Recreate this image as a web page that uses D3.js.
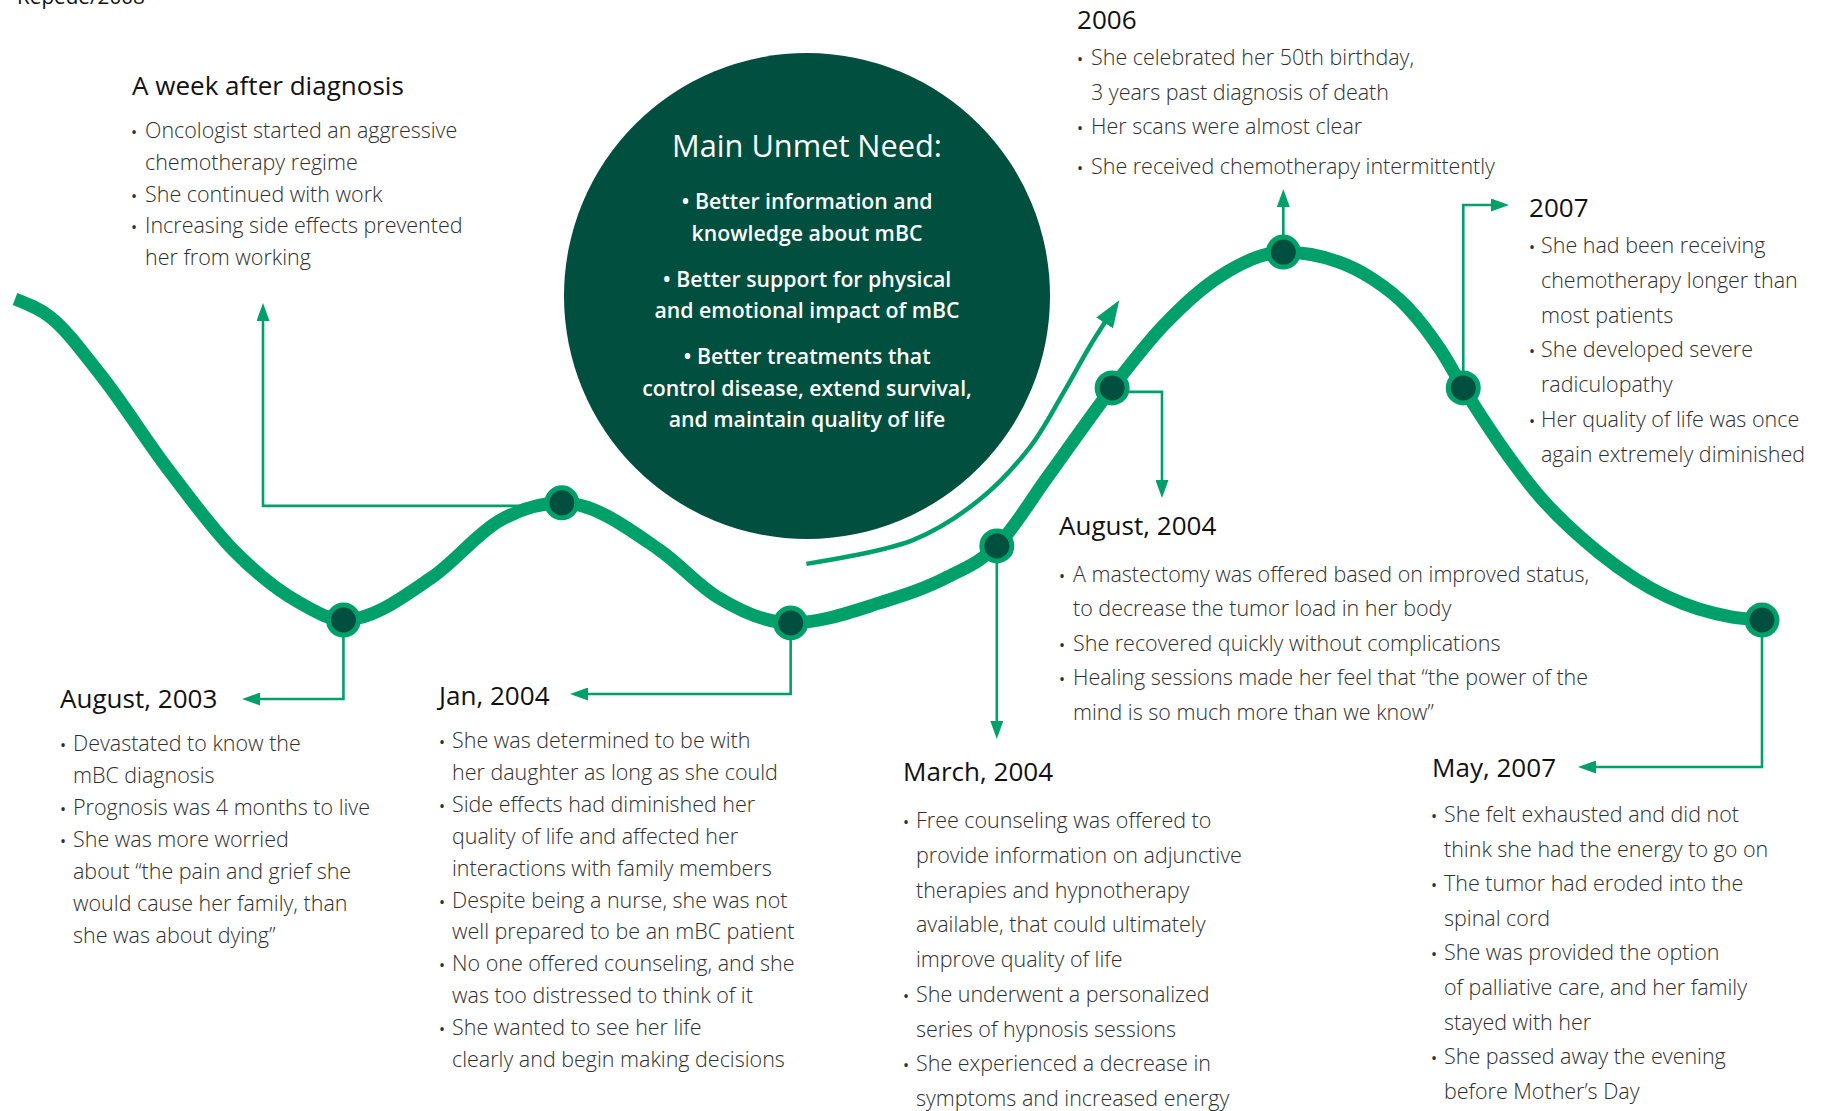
<!DOCTYPE html>
<html><head><meta charset="utf-8">
<script src="https://cdn.jsdelivr.net/npm/d3@7"></script>
<style>
html,body{margin:0;padding:0;background:#fff;}
svg{display:block;}
</style></head><body>
<svg id="chart" width="1823" height="1111"></svg>
<script>
// ---------------- DATA ----------------
const sourceNote = "Repede/2008";
const milestones = ["August, 2003", "A week after diagnosis", "Jan, 2004", "March, 2004", "August, 2004", "2006", "2007", "May, 2007"];
// timeline position (0-100) and relative quality of life (0-100) of each milestone
const milestoneTime = [18.8, 31.3, 44.4, 56.2, 62.8, 72.6, 82.9, 100];
const milestoneQoL  = [0.8, 32.3, 0, 20.7, 63.2, 99.7, 63.2, 0.8];
// the journey line, read along its course (includes the milestones)
const pathTime = [0, 2.0, 4.9, 8.7, 12.5, 16.3, 18.8, 23.9, 27.8, 31.3, 36.9, 40.2, 44.4, 49.5, 53.4, 56.2, 59.1, 62.8, 65.7, 69.0, 72.6, 75.8, 77.7, 79.7, 81.6, 82.9, 87.3, 90.7, 94.6, 98.3, 100];
const pathQoL  = [87.1, 82.3, 66.7, 41.7, 19.6, 5.4, 0.8, 12.4, 27.7, 32.3, 19.6, 7.0, 0, 5.4, 12.4, 20.7, 39.2, 63.2, 79.8, 93.3, 99.7, 97.0, 92.5, 84.9, 73.4, 63.2, 33.9, 18.8, 7.0, 1.6, 0.8];
// the thin "improvement" arrow next to the unmet-need circle
const arrowTime = [45.3, 51.4, 55.2, 58.1, 60.0, 61.5, 62.4];
const arrowQoL  = [15.9, 22.3, 33.1, 47.3, 61.8, 74.2, 80.9];

const details = [
  [["Devastated to know the", "mBC diagnosis"], ["Prognosis was 4 months to live"], ["She was more worried", "about \u201cthe pain and grief she", "would cause her family, than", "she was about dying\u201d"]],
  [["Oncologist started an aggressive", "chemotherapy regime"], ["She continued with work"], ["Increasing side effects prevented", "her from working"]],
  [["She was determined to be with", "her daughter as long as she could"], ["Side effects had diminished her", "quality of life and affected her", "interactions with family members"], ["Despite being a nurse, she was not", "well prepared to be an mBC patient"], ["No one offered counseling, and she", "was too distressed to think of it"], ["She wanted to see her life", "clearly and begin making decisions"]],
  [["Free counseling was offered to", "provide information on adjunctive", "therapies and hypnotherapy", "available, that could ultimately", "improve quality of life"], ["She underwent a personalized", "series of hypnosis sessions"], ["She experienced a decrease in", "symptoms and increased energy"]],
  [["A mastectomy was offered based on improved status,", "to decrease the tumor load in her body"], ["She recovered quickly without complications"], ["Healing sessions made her feel that \u201cthe power of the", "mind is so much more than we know\u201d"]],
  [["She celebrated her 50th birthday,", "3 years past diagnosis of death"], ["Her scans were almost clear"], ["She received chemotherapy intermittently"]],
  [["She had been receiving", "chemotherapy longer than", "most patients"], ["She developed severe", "radiculopathy"], ["Her quality of life was once", "again extremely diminished"]],
  [["She felt exhausted and did not", "think she had the energy to go on"], ["The tumor had eroded into the", "spinal cord"], ["She was provided the option", "of palliative care, and her family", "stayed with her"], ["She passed away the evening", "before Mother\u2019s Day"]]
];
const needTitle = "Main Unmet Need:";
const needs = [
  ["Better information and", "knowledge about mBC"],
  ["Better support for physical", "and emotional impact of mBC"],
  ["Better treatments that", "control disease, extend survival,", "and maintain quality of life"]
];

// ---------------- LAYOUT / STYLE ----------------
const GREEN = "#00a06b", DARK = "#004f3f", TEXT = "#2e2e2e", HEAD = "#111";
const FONT = "'Open Sans', 'Noto Sans', 'DejaVu Sans', sans-serif";
const labelLayout = [
  {hx: 60,   hy: 708, bx: 63,   tx: 73,   y0: 751, lh: 32.0},
  {hx: 132,  hy: 95,  bx: 134,  tx: 145,  y0: 138, lh: 31.8},
  {hx: 439,  hy: 705, bx: 442,  tx: 452,  y0: 748, lh: 31.9},
  {hx: 903,  hy: 781, bx: 906,  tx: 916,  y0: 828, lh: 34.75},
  {hx: 1059, hy: 535, bx: 1062, tx: 1073, y0: 582, lh: 34.4},
  {hx: 1077, hy: 29,  bx: 1080, tx: 1091, y0: 65,  lh: 34.5, gaps: {2: 5}},
  {hx: 1529, hy: 217, bx: 1532, tx: 1541, y0: 253, lh: 34.8},
  {hx: 1432, hy: 777, bx: 1434, tx: 1444, y0: 822, lh: 34.6}
];
// connector routes from each milestone to its label (pixel layout)
const connectorLayout = [
  {dy: 0, steps: [["v", 699], ["h", 242]]},
  {dy: 3, steps: [["h", 263], ["v", 303]]},
  {dy: 0, steps: [["v", 694], ["h", 570]]},
  {dy: 0, steps: [["v", 739]]},
  {dy: 4, steps: [["h", 1162], ["v", 498]]},
  {dy: 0, steps: [["v", 189]]},
  {dy: 0, steps: [["v", 205], ["h", 1509]]},
  {dy: 0, steps: [["v", 767], ["h", 1578]]}
];
const circleLayout = {cx: 807, cy: 296, r: 243, titleY: 157, firstY: 209, lh: 31.5, groupGap: 14.5};

// ---------------- DRAW ----------------
const svg = d3.select("#chart");
const x = d3.scaleLinear().domain([0, 100]).range([15, 1762]);
const y = d3.scaleLinear().domain([0, 100]).range([623, 251]);

function fit(weight, sample, target) {
  const t = svg.append("text").attr("font-family", FONT).attr("font-weight", weight)
    .attr("font-size", 100).text(sample);
  const w = t.node().getComputedTextLength();
  t.remove();
  return 100 * target / w;
}
const bodySize = fit(300, "She received chemotherapy intermittently", 404);
const headSize = fit(400, "A week after diagnosis", 272);
const titleSize = fit(400, needTitle, 270);
const needSize = fit(600, "control disease, extend survival,", 330);
const noteSize = fit(400, sourceNote, 128);

const defs = svg.append("defs");
const AH = 8; // gap between line end and arrow tip
defs.append("marker").attr("id", "arr").attr("viewBox", "0 0 18 13")
  .attr("refX", 18 - AH).attr("refY", 6.5).attr("markerWidth", 18).attr("markerHeight", 13)
  .attr("markerUnits", "userSpaceOnUse").attr("orient", "auto")
  .append("path").attr("d", "M0,0L18,6.5L0,13Z").attr("fill", GREEN);
defs.append("marker").attr("id", "bigArr").attr("viewBox", "0 0 27 20")
  .attr("refX", 1).attr("refY", 10).attr("markerWidth", 27).attr("markerHeight", 20)
  .attr("markerUnits", "userSpaceOnUse").attr("orient", "auto")
  .append("path").attr("d", "M0,0L27,10L0,20Z").attr("fill", GREEN);

// source note (cut at the top edge)
svg.append("text").attr("x", 17).attr("y", 3.5).attr("font-family", FONT)
  .attr("font-size", noteSize).attr("fill", HEAD).text(sourceNote);

// unmet need circle
const C = circleLayout;
svg.append("circle").attr("cx", C.cx).attr("cy", C.cy).attr("r", C.r).attr("fill", DARK);
svg.append("text").attr("x", C.cx).attr("y", C.titleY).attr("text-anchor", "middle")
  .attr("font-family", FONT).attr("font-weight", 400).attr("font-size", titleSize)
  .attr("fill", "#fff").text(needTitle);
let cyy = C.firstY;
needs.forEach((g, gi) => {
  if (gi > 0) cyy += C.groupGap;
  g.forEach((line, li) => {
    svg.append("text").attr("x", C.cx).attr("y", cyy).attr("text-anchor", "middle")
      .attr("font-family", FONT).attr("font-weight", 600).attr("font-size", needSize)
      .attr("fill", "#fff").text((li === 0 ? "\u2022 " : "") + line);
    cyy += C.lh;
  });
});

// improvement arrow
const arrowData = arrowTime.map((t, i) => [x(t), y(arrowQoL[i])]);
svg.append("path").attr("d", d3.line().curve(d3.curveCatmullRom.alpha(0.5))(arrowData))
  .attr("fill", "none").attr("stroke", GREEN).attr("stroke-width", 4.5)
  .attr("marker-end", "url(#bigArr)");

// connectors
const nodes = milestoneTime.map((t, i) => ({name: milestones[i], px: x(t), py: y(milestoneQoL[i])}));
nodes.forEach((n, i) => {
  const L = connectorLayout[i];
  const pts = [[n.px, n.py + L.dy]];
  L.steps.forEach(([k, v]) => {
    const p = pts[pts.length - 1];
    pts.push(k === "v" ? [p[0], v] : [v, p[1]]);
  });
  const a = pts[pts.length - 2], b = pts[pts.length - 1];
  const len = Math.hypot(b[0] - a[0], b[1] - a[1]);
  b[0] -= (b[0] - a[0]) / len * AH; b[1] -= (b[1] - a[1]) / len * AH;
  svg.append("path").attr("d", d3.line()(pts)).attr("fill", "none")
    .attr("stroke", GREEN).attr("stroke-width", 2.6).attr("marker-end", "url(#arr)");
});

// journey line
const lineData = pathTime.map((t, i) => [x(t), y(pathQoL[i])]);
svg.append("path").attr("d", d3.line().curve(d3.curveMonotoneX)(lineData))
  .attr("fill", "none").attr("stroke", GREEN).attr("stroke-width", 13);

// milestone nodes
svg.selectAll("circle.node").data(nodes).join("circle").attr("class", "node")
  .attr("cx", d => d.px).attr("cy", d => d.py).attr("r", 15)
  .attr("fill", DARK).attr("stroke", GREEN).attr("stroke-width", 5);

// labels
nodes.forEach((n, i) => {
  const L = labelLayout[i];
  svg.append("text").attr("x", L.hx).attr("y", L.hy).attr("font-family", FONT)
    .attr("font-weight", 400).attr("font-size", headSize).attr("fill", HEAD).text(n.name);
  let yy = L.y0;
  details[i].forEach((b, j) => {
    if (L.gaps && L.gaps[j]) yy += L.gaps[j];
    svg.append("text").attr("x", L.bx).attr("y", yy).attr("text-anchor", "middle")
      .attr("font-family", FONT).attr("font-size", bodySize * 0.75).attr("fill", TEXT).text("\u2022");
    b.forEach(line => {
      svg.append("text").attr("x", L.tx).attr("y", yy).attr("font-family", FONT)
        .attr("font-weight", 300).attr("font-size", bodySize).attr("fill", TEXT).text(line);
      yy += L.lh;
    });
  });
});
</script>
</body></html>
